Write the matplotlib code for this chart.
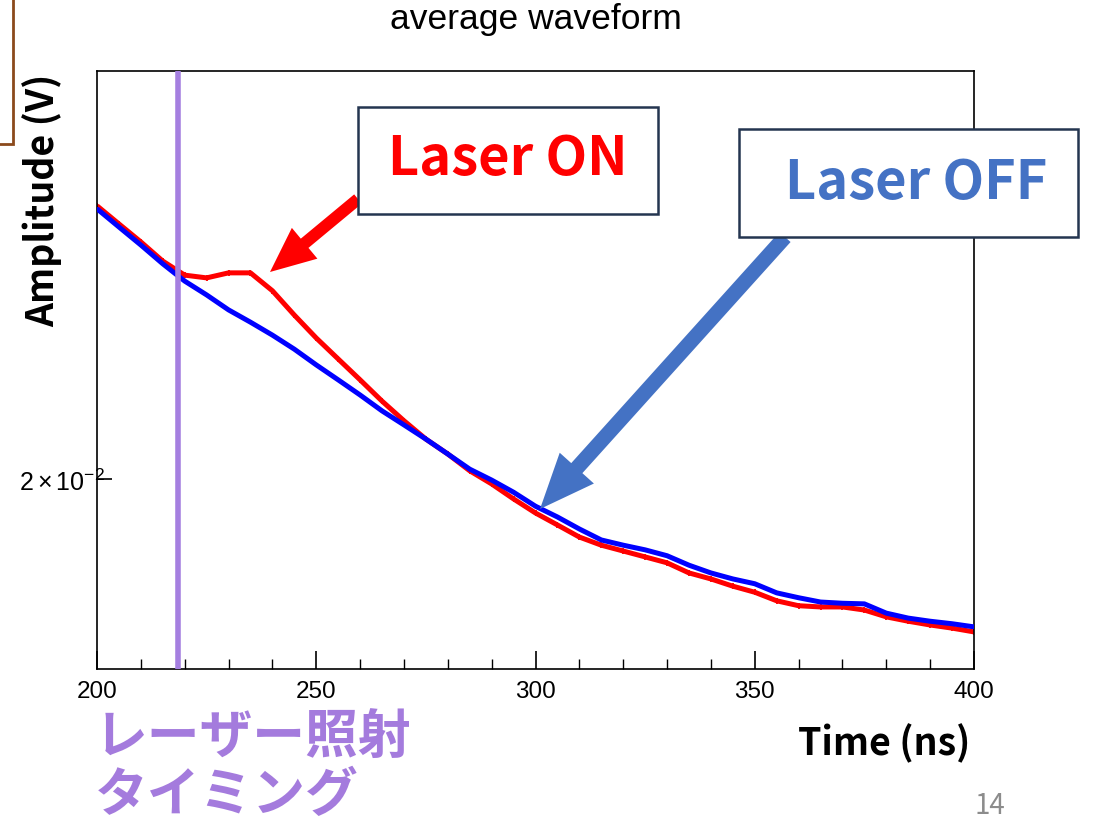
import matplotlib

matplotlib.use("Agg")
import matplotlib.pyplot as plt
from matplotlib.patches import FancyArrow, Rectangle
import numpy as np

# sample times (ns)
TIME_NS = [200, 205, 210, 215, 220, 225, 230, 235, 240, 245,
           250, 255, 260, 265, 270, 275, 280, 285, 290, 295,
           300, 305, 310, 315, 320, 325, 330, 335, 340, 345,
           350, 355, 360, 365, 370, 375, 380, 385, 390, 395, 400]

# Laser OFF average amplitude (V)
LASER_OFF = [0.02558, 0.02516, 0.02475, 0.02433, 0.02395, 0.02365, 0.02333, 0.02307, 0.02280, 0.02251,
             0.02219, 0.02189, 0.02159, 0.02128, 0.02101, 0.02074, 0.02046, 0.02018, 0.01998, 0.01976,
             0.01951, 0.01932, 0.01911, 0.01892, 0.01883, 0.01875, 0.01865, 0.01849, 0.01836, 0.01826,
             0.01818, 0.01803, 0.01795, 0.01788, 0.01786, 0.01785, 0.01770, 0.01762, 0.01757, 0.01753,
             0.01748]

# Laser ON average amplitude (V)
LASER_ON = [0.02565, 0.02523, 0.02482, 0.02439, 0.02408, 0.02402, 0.02413, 0.02413, 0.02374, 0.02322,
            0.02274, 0.02231, 0.02189, 0.02147, 0.02109, 0.02074, 0.02046, 0.02015, 0.01991, 0.01964,
            0.01939, 0.01918, 0.01897, 0.01883, 0.01873, 0.01863, 0.01853, 0.01836, 0.01826, 0.01814,
            0.01804, 0.01790, 0.01782, 0.01780, 0.01780, 0.01775, 0.01764, 0.01757, 0.01751, 0.01746,
            0.01740]

LASER_TIME_NS = 218.5
REL_ERR = 0.0028

JP = ["Noto Sans CJK JP", "DejaVu Sans"]
ROOT_FONT = ["Liberation Sans", "DejaVu Sans"]

plt.rcParams["mathtext.fontset"] = "custom"
plt.rcParams["mathtext.rm"] = "Liberation Sans"
plt.rcParams["mathtext.it"] = "Liberation Sans:italic"


def draw_waveforms(ax):
    t = np.array(TIME_NS, dtype=float)
    on = np.array(LASER_ON)
    off = np.array(LASER_OFF)

    ax.plot(t, on, color="#ff0000", lw=3.6, solid_capstyle="butt", zorder=2)
    ax.errorbar(t, on, yerr=on * REL_ERR, fmt="none", ecolor="#ff0000", elinewidth=1.3, zorder=2)
    ax.plot(t, off, color="#0000ff", lw=3.6, solid_capstyle="butt", zorder=3)
    ax.errorbar(t, off, yerr=off * REL_ERR * 0.6, fmt="none", ecolor="#0000ff", elinewidth=1.3, zorder=3)

    ax.axvline(LASER_TIME_NS, color="#a57fe0", lw=4, zorder=4)

    ax.set_yscale("log")
    ax.set_xlim(200, 400)
    ax.set_ylim(0.016822, 0.0290)

    ax.set_xticks([200, 250, 300, 350, 400])
    ax.set_xticks(np.arange(200, 401, 10), minor=True)
    ax.set_yticks([0.02])
    ax.set_yticklabels([r"$\mathregular{2\times10^{-2}}$"])
    ax.set_yticks([], minor=True)
    ax.tick_params(axis="x", which="major", direction="in", length=13, width=1.2,
                   labelsize=17.5, pad=8)
    ax.tick_params(axis="x", which="minor", direction="in", length=7, width=1.0)
    ax.tick_params(axis="y", which="major", direction="in", length=11, width=1.2,
                   labelsize=18, pad=-6)
    for lab in ax.get_xticklabels() + ax.get_yticklabels():
        lab.set_fontfamily(ROOT_FONT)
    for spine in ax.spines.values():
        spine.set_linewidth(1.2)


def draw_overlay(ov):
    ov.set_xlim(0, 1094)
    ov.set_ylim(820, 0)
    ov.axis("off")

    ov.text(536, 20, "average waveform", ha="center", va="center",
            fontsize=25.5, family=ROOT_FONT)

    # cut-off box in top-left corner
    ov.add_patch(Rectangle((-20, -10), 33, 155, fill=False, edgecolor="#8b4a1c", lw=2))

    ov.text(42, 200, "Amplitude (V)", rotation=90, ha="center", va="center",
            fontsize=27, fontweight="bold", family=JP)
    ov.text(884, 743, "Time (ns)", ha="center", va="center",
            fontsize=27, fontweight="bold", family=JP)

    ov.text(95, 737, "レーザー照射", ha="left", va="center",
            fontsize=38, fontweight="bold", color="#a47bdd", family=JP)
    ov.text(95, 795, "タイミング", ha="left", va="center",
            fontsize=38, fontweight="bold", color="#a47bdd", family=JP)

    ov.add_patch(FancyArrow(358, 200, 270 - 358, 273 - 200, width=12, head_width=40,
                            head_length=45, length_includes_head=True,
                            color="#ff0000", lw=0))
    ov.add_patch(FancyArrow(785, 238, 540 - 785, 510 - 238, width=15, head_width=46,
                            head_length=55, length_includes_head=True,
                            color="#4472c4", lw=0))

    ov.add_patch(Rectangle((358, 108), 300, 107, facecolor="white",
                           edgecolor="#243550", lw=1.8))
    ov.text(508, 160, "Laser ON", ha="center", va="center", color="#ff0000",
            fontsize=39, fontweight="bold", family=JP)
    ov.add_patch(Rectangle((739, 130), 339, 108, facecolor="white",
                           edgecolor="#243550", lw=1.8))
    ov.text(916, 184, "Laser OFF", ha="center", va="center", color="#4472c4",
            fontsize=39, fontweight="bold", family=JP)

    ov.text(990, 806, "14", ha="center", va="center", color="#8c8c8c",
            fontsize=20, family=JP)


def main():
    fig = plt.figure(figsize=(10.94, 8.2), dpi=100)
    ax = fig.add_axes([97 / 1094, 150 / 820, 877 / 1094, 598 / 820])
    draw_waveforms(ax)
    ov = fig.add_axes([0, 0, 1, 1], zorder=5)
    ov.patch.set_alpha(0)
    draw_overlay(ov)
    fig.savefig("out.png", dpi=100)


if __name__ == "__main__":
    main()
